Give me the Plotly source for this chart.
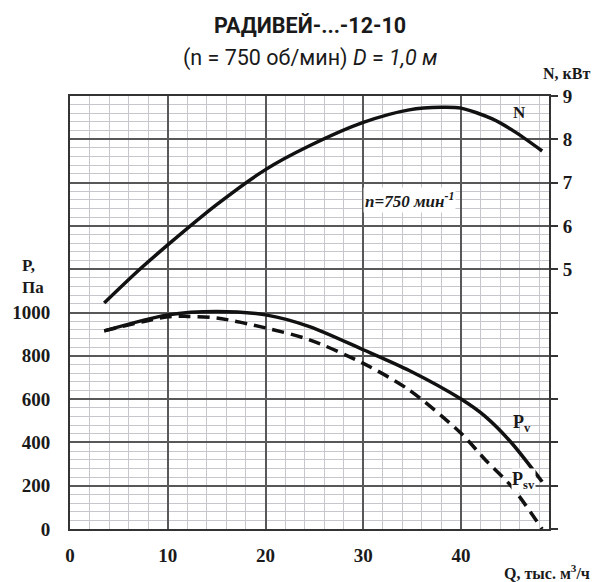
import plotly.graph_objects as go

# ---- data ----
q_n = [3.5, 7, 10, 15, 20, 24.5, 30, 34.7, 38, 40, 43.2, 45.6, 48.3]
n_kw = [4.22, 4.97, 5.56, 6.49, 7.30, 7.85, 8.39, 8.68, 8.74, 8.72, 8.47, 8.16, 7.73]

q_pv = [3.5, 10, 15, 20, 24.5, 30, 34.7, 40, 42.5, 45.2, 48.3]
p_v = [915, 989, 1005, 989, 935, 828, 732, 600, 519, 396, 218]

q_psv = [3.5, 10, 12, 15, 20, 24.5, 30, 34.7, 40, 42.5, 45.2, 48.3]
p_sv = [915, 980, 982, 975, 929, 874, 765, 642, 442, 319, 195, 0]

q_ticks = [0, 10, 20, 30, 40]
p_ticks = list(range(0, 2001, 200))
p_labels = [str(v) if v <= 1000 else "" for v in p_ticks]
n_ticks = list(range(-1, 10))
n_labels = [str(v) if v >= 5 else "" for v in n_ticks]

serif = "Liberation Serif, Times New Roman, serif"
cond = "Roboto, DejaVu Sans, sans-serif"
major_c = "#585858"
minor_c = "#c6c6cc"

fig = go.Figure()
fig.add_trace(go.Scatter(x=q_n, y=n_kw, yaxis="y2", mode="lines",
                         line=dict(color="#111", width=3.5, shape="spline", smoothing=0.8),
                         showlegend=False, hoverinfo="skip"))
fig.add_trace(go.Scatter(x=q_pv, y=p_v, mode="lines",
                         line=dict(color="#111", width=3.5, shape="spline", smoothing=0.8),
                         showlegend=False, hoverinfo="skip"))
fig.add_trace(go.Scatter(x=q_psv, y=p_sv, mode="lines",
                         line=dict(color="#111", width=3.5, shape="spline", smoothing=0.8,
                                   dash="12px,7px"),
                         showlegend=False, hoverinfo="skip"))

fig.update_layout(
    width=595, height=582,
    margin=dict(l=68, r=46, t=96, b=53),
    paper_bgcolor="white", plot_bgcolor="white",
    font=dict(family=serif, color="#1a1a1a"),
    xaxis=dict(range=[0, 49], tickmode="array", tickvals=q_ticks,
               ticktext=[str(v) for v in q_ticks],
               showgrid=True, gridcolor=major_c, gridwidth=1.5,
               minor=dict(dtick=2, tick0=0, showgrid=True, gridcolor=minor_c, gridwidth=1.3),
               showline=True, linecolor="#333", linewidth=2, mirror=True,
               zeroline=False, ticks="", ticklabelstandoff=8,
               tickfont=dict(family=serif, size=19, color="#1a1a1a", weight="bold")),
    yaxis=dict(range=[0, 2000], tickmode="array", tickvals=p_ticks, ticktext=p_labels,
               showgrid=True, gridcolor=major_c, gridwidth=1.5,
               minor=dict(dtick=40, tick0=0, showgrid=True, gridcolor=minor_c, gridwidth=1.3),
               showline=True, linecolor="#333", linewidth=2, mirror=True,
               zeroline=False, ticks="", ticklabelstandoff=14,
               tickfont=dict(family=serif, size=19, color="#1a1a1a", weight="bold")),
    yaxis2=dict(range=[-1, 9], overlaying="y", side="right", tickmode="array",
                tickvals=n_ticks, ticktext=n_labels, showgrid=False, zeroline=False,
                ticks="outside", ticklen=8, tickwidth=1.5, tickcolor="#333",
                showline=False, ticklabelstandoff=1,
                tickfont=dict(family=serif, size=19, color="#1a1a1a", weight="bold")),
)

ann = [
    dict(text="<b>РАДИВЕЙ-...-12-10</b>",
         x=0.5, y=1.162, xref="paper", yref="paper",
         xanchor="center", yanchor="middle", showarrow=False,
         font=dict(family=cond, size=21.5, color="#1a1a1a")),
    dict(text="(n = 750 об/мин) <i>D</i> = <i>1,0 м</i>",
         x=0.5, y=1.088, xref="paper",
         yref="paper", xanchor="center", yanchor="middle", showarrow=False,
         font=dict(family=cond, size=21.5, color="#1a1a1a")),
    dict(text="<b>N, кВт</b>", x=1.0895, y=1.053, xref="paper", yref="paper", xanchor="right",
         yanchor="middle", showarrow=False, font=dict(family=serif, size=16)),
    dict(text="<b>Q, тыс. м<sup>3</sup>/ч</b>", x=1.0895, y=-0.099, xref="paper", yref="paper",
         xanchor="right", yanchor="middle", showarrow=False, font=dict(family=serif, size=16)),
    dict(text="<b>P,<br>Па</b>", x=-0.104, y=0.582, xref="paper", yref="paper", xanchor="left",
         yanchor="middle", align="left", showarrow=False, font=dict(family=serif, size=17)),
    dict(text="<b>N</b>", x=46.0, y=8.61, xref="x", yref="y2", showarrow=False,
         font=dict(family=serif, size=17)),
    dict(text="<b><i>n=750 мин<sup>-1</sup></i></b>", x=30.0, y=1520, xref="x", yref="y",
         xanchor="left", yanchor="middle", showarrow=False, bgcolor="white",
         font=dict(family=serif, size=17)),
    dict(text="<b>P<sub>v</sub></b>", x=46.2, y=488, xref="x", yref="y", showarrow=False,
         font=dict(family=serif, size=18)),
    dict(text="<b>P<sub>sv</sub></b>", x=46.4, y=226, xref="x", yref="y", showarrow=False,
         bgcolor="white", borderpad=0, font=dict(family=serif, size=18)),
]
fig.update_layout(annotations=ann)

fig.write_html("out.html", config={"displayModeBar": False},
               post_script="document.body.style.margin='0';")
